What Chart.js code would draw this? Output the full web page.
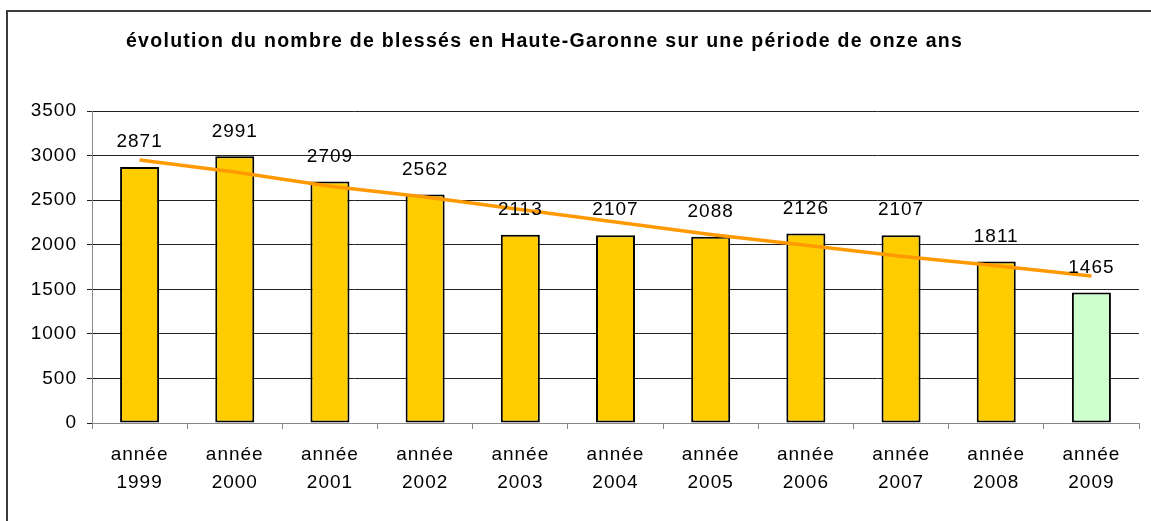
<!DOCTYPE html>
<html>
<head>
<meta charset="utf-8">
<script src="https://cdn.jsdelivr.net/npm/chart.js@4.4.0/dist/chart.umd.min.js"></script>
<style>
  html, body { margin: 0; padding: 0; background: #fff; }
  #wrap { position: relative; width: 1151px; height: 521px; }
</style>
</head>
<body>
<div id="wrap"><canvas id="blesses" width="1151" height="521"></canvas></div>
<script>
const chartTitle = "évolution du nombre de blessés en Haute-Garonne sur une période de onze ans";
const years = ["1999", "2000", "2001", "2002", "2003", "2004", "2005", "2006", "2007", "2008", "2009"];
const injured = [2871, 2991, 2709, 2562, 2113, 2107, 2088, 2126, 2107, 1811, 1465];
// trend line
const trend = [2950, 2815, 2655, 2535, 2395, 2255, 2115, 1995, 1870, 1765, 1650];
const yTicks = [0, 500, 1000, 1500, 2000, 2500, 3000, 3500];

const FONT = "'Liberation Sans', Arial, sans-serif";

// frame + title, drawn by hand so the letter spacing can match
const framePlugin = {
    id: 'frame',
    beforeDraw(chart) {
        const ctx = chart.ctx;
        ctx.save();
        ctx.fillStyle = '#fff';
        ctx.fillRect(0, 0, chart.width, chart.height);
        ctx.strokeStyle = '#3c3c3c';
        ctx.lineWidth = 2;
        ctx.beginPath();
        ctx.moveTo(7, chart.height + 2);
        ctx.lineTo(7, 11);
        ctx.lineTo(chart.width + 2, 11);
        ctx.stroke();

        ctx.font = 'bold 19.5px ' + FONT;
        ctx.fillStyle = '#000';
        ctx.textAlign = 'left';
        ctx.textBaseline = 'alphabetic';
        const natural = ctx.measureText(chartTitle).width;
        const target = 836;
        const spacing = (target - natural) / (chartTitle.length - 1);
        ctx.letterSpacing = spacing.toFixed(2) + 'px';
        ctx.fillText(chartTitle, 126, 47);
        ctx.restore();
        // slightly wider text like the original
        ctx.letterSpacing = '1px';
    }
};

const valueLabels = {
    id: 'valueLabels',
    afterDatasetsDraw(chart) {
        const ctx = chart.ctx;
        const meta = chart.getDatasetMeta(0);
        ctx.save();
        ctx.font = '19px ' + FONT;
        ctx.letterSpacing = '1px';
        ctx.fillStyle = '#000';
        ctx.textAlign = 'center';
        ctx.textBaseline = 'middle';
        meta.data.forEach((bar, i) => {
            ctx.fillText(String(injured[i]), bar.x, bar.y - 25);
        });
        ctx.restore();
    }
};

new Chart(document.getElementById("blesses"), {
    type: 'bar',
    data: {
        labels: years.map(y => ["année", y]),
        datasets: [{
            type: 'bar',
            data: injured,
            backgroundColor: c => c.dataIndex === injured.length - 1 ? '#CCFFCC' : '#FFCC00',
            borderColor: '#000',
            borderWidth: 2,
            borderSkipped: false,
            barPercentage: 0.41,
            categoryPercentage: 1,
            order: 2
        }, {
            type: 'line',
            data: trend,
            borderColor: '#FF9900',
            borderWidth: 3.5,
            pointRadius: 0,
            fill: false,
            tension: 0,
            order: 1
        }]
    },
    options: {
        responsive: false,
        animation: false,
        layout: { padding: { top: 111, left: 0, right: 12, bottom: 0 } },
        plugins: {
            legend: { display: false },
            title: { display: false },
            tooltip: { enabled: false }
        },
        scales: {
            x: {
                offset: true,
                grid: {
                    offset: true,
                    drawOnChartArea: false,
                    drawTicks: true,
                    tickLength: 6,
                    color: '#888'
                },
                border: { color: '#888', width: 1 },
                ticks: {
                    color: '#000',
                    padding: 12,
                    maxRotation: 0,
                    autoSkip: false,
                    font: { family: FONT, size: 19, lineHeight: 1.47 }
                },
                afterFit: s => { s.height = 98; }
            },
            y: {
                min: 0,
                max: 3500,
                afterBuildTicks: s => { s.ticks = yTicks.map(v => ({ value: v })); },
                grid: {
                    color: '#222',
                    lineWidth: 1,
                    tickLength: 5,
                    drawTicks: true
                },
                border: { color: '#888', width: 1 },
                ticks: {
                    color: '#000',
                    padding: 10,
                    font: { family: FONT, size: 19 },
                    callback: v => String(v)
                },
                afterFit: s => { s.width = 92; }
            }
        }
    },
    plugins: [framePlugin, valueLabels]
});
</script>
</body>
</html>
